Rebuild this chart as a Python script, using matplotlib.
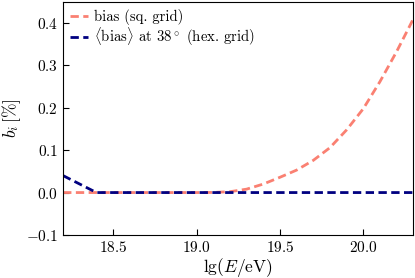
import matplotlib
matplotlib.use("Agg")
import matplotlib.pyplot as plt

plt.rcParams["font.family"] = "serif"
plt.rcParams["font.serif"] = ["cmr10"]
plt.rcParams["mathtext.fontset"] = "cm"
plt.rcParams["axes.formatter.use_mathtext"] = True
plt.rcParams["axes.unicode_minus"] = True

# energy bins lg(E/eV)
lg_e = [18.2, 18.3, 18.4, 18.5, 18.6, 18.7, 18.8, 18.9, 19.0, 19.1, 19.2,
        19.3, 19.4, 19.5, 19.6, 19.7, 19.8, 19.9, 20.0, 20.1, 20.2, 20.3]
bias_sq = [0, 0, 0, 0, 0, 0, 0, 0, 0, 0.0003, 0.002,
           0.008, 0.02, 0.036, 0.053, 0.076, 0.106, 0.148, 0.198, 0.262, 0.333, 0.41]
bias_hex = [0.04, 0.02, 0.0, 0, 0, 0, 0, 0, 0, 0, 0,
            0, 0, 0, 0, 0, 0, 0, 0, 0, 0, 0]

fig, ax = plt.subplots(figsize=(4.15, 2.78), dpi=100)
fig.subplots_adjust(left=0.152, right=0.996, top=0.993, bottom=0.155)

ax.plot(lg_e, bias_sq, color="#FA8072", ls=(0, (3, 1.6)), lw=2,
        label="bias (sq. grid)")
ax.plot(lg_e, bias_hex, color="#000080", ls=(0, (3, 1.6)), lw=2,
        label=r"$\langle$bias$\rangle$ at 38$^\circ$ (hex. grid)")

ax.set_xlim(18.2, 20.3)
ax.set_ylim(-0.1, 0.45)
ax.set_xticks([18.5, 19.0, 19.5, 20.0])
ax.set_yticks([-0.1, 0.0, 0.1, 0.2, 0.3, 0.4])
ax.tick_params(direction="in", length=4, labelsize=11)
ax.set_xlabel(r"lg$(E/\mathrm{eV})$", fontsize=12.5, labelpad=1)
ax.set_ylabel(r"$b_i\,[\%]$", fontsize=12.5, labelpad=2)

ax.legend(loc="upper left", frameon=False, fontsize=10.6, handlelength=1.2,
          handletextpad=0.4, borderaxespad=0.25, borderpad=0.25,
          labelspacing=0.0)

plt.savefig("out.png", dpi=100)
